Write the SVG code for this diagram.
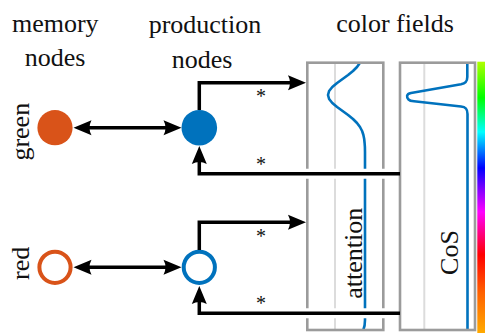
<svg xmlns="http://www.w3.org/2000/svg" width="485" height="333" viewBox="0 0 485 333">
  <style>
    text { font-family: "Liberation Serif", "Times New Roman", serif; fill: #111; }
    .label { font-size: 26px; text-anchor: middle; }
    .star { font-size: 20px; text-anchor: middle; }
    .conn { fill: none; stroke: #000; stroke-width: 3.5; stroke-linejoin: miter; }
    .halo { fill: none; stroke: #fff; stroke-width: 10; }
    .box { fill: none; stroke: #9b9b9b; stroke-width: 2.6; }
    .axis { stroke: #dcdcdc; stroke-width: 2; }
    .field { fill: none; stroke: #0072bd; stroke-width: 2.6; stroke-linejoin: round; }
    .mem { fill: #d95319; }
    .prod { fill: #0072bd; }
    .mem-off { fill: #fff; stroke: #d95319; stroke-width: 4; }
    .prod-off { fill: #fff; stroke: #0072bd; stroke-width: 4; }
  </style>
  <defs>
    <marker id="arrow" viewBox="-1 -9 21 18" refX="8" refY="0" markerWidth="21" markerHeight="18"
            markerUnits="userSpaceOnUse" orient="auto-start-reverse" overflow="visible">
      <path d="M18,0 L0,-7.5 Q4,0 0,7.5 Z" fill="#000"/>
    </marker>
    <linearGradient id="hue" x1="0" y1="0" x2="0" y2="1">
      <stop offset="0" stop-color="#b0ff00"/>
      <stop offset="0.133" stop-color="#00ff00"/>
      <stop offset="0.259" stop-color="#00ffff"/>
      <stop offset="0.392" stop-color="#0000ff"/>
      <stop offset="0.47" stop-color="#8000ff"/>
      <stop offset="0.554" stop-color="#ff00ff"/>
      <stop offset="0.712" stop-color="#ff0000"/>
      <stop offset="0.85" stop-color="#ff6000"/>
      <stop offset="1" stop-color="#ffaa00"/>
    </linearGradient>
  </defs>

  <!-- column headings -->
  <g id="headings">
    <text class="label" x="55.3" y="32">memory</text>
    <text class="label" x="55" y="65.5">nodes</text>
    <text class="label" x="205" y="33">production</text>
    <text class="label" x="202" y="68">nodes</text>
    <text class="label" x="395" y="32">color fields</text>
  </g>

  <!-- row labels -->
  <g id="row-labels">
    <text class="label" transform="translate(28.5,131.7) rotate(-90)">green</text>
    <text class="label" transform="translate(28.5,263.3) rotate(-90)">red</text>
  </g>

  <!-- attention field -->
  <g id="field-attention">
    <line class="axis" x1="335" y1="63" x2="335" y2="330"/>
    <path class="field" d="M360,62.7 L357,67 L353,71 L348.1,75 L342.6,79 L337.1,83 L332.3,87 L329.1,91 L328,95 L329.1,99 L332.3,103 L337.1,107 L342.6,111 L348.1,115 L353,119 L357,123 L360,127 L362.1,131 L363.4,135 L364.2,139 L364.6,143 L364.9,147 L365,152 L365,320 Q365,326 363.3,330"/>
    <rect class="box" x="307.3" y="62.7" width="76" height="267.3"/>
    <text class="label" transform="translate(361.5,253.3) rotate(-90)">attention</text>
  </g>

  <!-- CoS field -->
  <g id="field-cos">
    <line class="axis" x1="424.3" y1="63" x2="424.3" y2="330"/>
    <path class="field" d="M467.3,62.7 V77 C467.3,82 465,83.5 461,84.3 L411,93 C406,94 406.5,97 408.5,99.5 C409.5,100.5 411,101 414,101.3 L461,106.5 C466,107 467.5,109 467.5,114 V330"/>
    <rect class="box" x="400" y="62.7" width="75" height="267.3"/>
    <text class="label" transform="translate(458,252.5) rotate(-90)">CoS</text>
  </g>

  <!-- hue colour bar -->
  <g id="colorbar">
    <rect x="477.3" y="61.7" width="8" height="271.3" fill="url(#hue)"/>
  </g>

  <!-- nodes -->
  <g id="memory-green"><circle class="mem" cx="55" cy="127.7" r="17.6"/></g>
  <g id="production-green"><circle class="prod" cx="199.3" cy="127.7" r="17.8"/></g>
  <g id="memory-red"><circle class="mem-off" cx="55" cy="267.3" r="15.6"/></g>
  <g id="production-red"><circle class="prod-off" cx="199.3" cy="267.3" r="15.6"/></g>

  <!-- connectors -->
  <g id="connectors">
    <path class="conn" d="M83.5,127.7 H171.5" marker-start="url(#arrow)" marker-end="url(#arrow)"/>
    <path class="conn" d="M83.5,267.3 H171.5" marker-start="url(#arrow)" marker-end="url(#arrow)"/>
    <path class="conn" d="M199.3,110 V82.7 H296" marker-end="url(#arrow)"/>
    <path class="conn" d="M199.3,250 V222.3 H296" marker-end="url(#arrow)"/>
    <path class="halo" d="M303,173.7 H398"/>
    <path class="halo" d="M303,313.3 H398"/>
    <path class="conn" d="M400,173.7 H199.3 V156" marker-end="url(#arrow)"/>
    <path class="conn" d="M400,313.3 H199.3 V296" marker-end="url(#arrow)"/>
    <text class="star" x="261" y="103">*</text>
    <text class="star" x="261" y="170.5">*</text>
    <text class="star" x="261" y="243">*</text>
    <text class="star" x="261" y="310">*</text>
  </g>
</svg>
